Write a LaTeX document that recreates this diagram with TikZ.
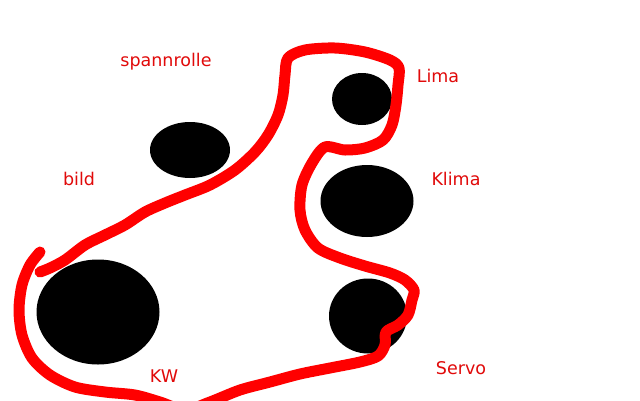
\documentclass[tikz,border=0pt]{standalone}
\usepackage{fontspec}
\setmainfont{DejaVu Sans}
\usetikzlibrary{shapes.geometric}
\definecolor{beltred}{RGB}{255,0,0}
\definecolor{labelred}{RGB}{225,10,10}
\tikzset{
	pulley/.style={ellipse, fill=black, inner sep=0pt},
	tag/.style={text=labelred, font=\fontsize{17.5}{20}\selectfont},
	belt/.style={draw=beltred, line width=11pt, line cap=round, line join=round}
}
\begin{document}
\begin{tikzpicture}[x=1pt,y=-1pt]
	\clip (0,0) rectangle (640,400);
	\fill[white] (0,0) rectangle (640,400);
	\node (KW)	at ( 98, 312)	[pulley, minimum width=123pt, minimum height=105pt]	{};
	\node (SP)	at (190, 150)	[pulley, minimum width=80pt, minimum height=56pt]	{};
	\node (LI)	at (362,  99)	[pulley, minimum width=60pt, minimum height=52pt]	{};
	\node (KL)	at (367, 201)	[pulley, minimum width=93pt, minimum height=72pt]	{};
	\node (SE)	at (368, 316)	[pulley, minimum width=78pt, minimum height=75pt]	{};
	\node (tSP)	at (166,  62)	[tag]	{spannrolle};
	\node (tBI)	at ( 79, 179)	[tag]	{bild};
	\node (tLI)	at (438,  76)	[tag]	{Lima};
	\node (tKL)	at (456, 179)	[tag]	{Klima};
	\node (tKW)	at (164, 376)	[tag]	{KW};
	\node (tSE)	at (461, 368)	[tag]	{Servo};
	% belt drawn by hand
	\draw[belt] plot[smooth, tension=0.5] coordinates {
		(40,252) (30,265) (22,285) (19,310) (22,335) (32,358) (50,375) (75,387)
		(105,392) (135,395) (160,402) (185,410) (210,402) (240,390) (270,382)
		(300,374) (330,368) (360,362) (378,356) (385,345) (386,332) (398,325)
		(408,315) (412,300) (414,290) (405,280) (390,273) (365,266) (340,258)
		(318,248) (305,230) (300,210) (302,185) (312,163) (325,147) (345,150)
		(365,148) (383,140) (392,125) (396,105) (398,85) (399,68) (390,60)
		(365,52) (335,48) (305,50) (288,58) (285,75) (283,95) (278,115)
		(268,135) (255,152) (235,170) (210,185) (185,195) (165,203) (145,212)
		(125,225) (105,235) (85,245) (65,260) (50,268) (40,272)};
\end{tikzpicture}
\end{document}
